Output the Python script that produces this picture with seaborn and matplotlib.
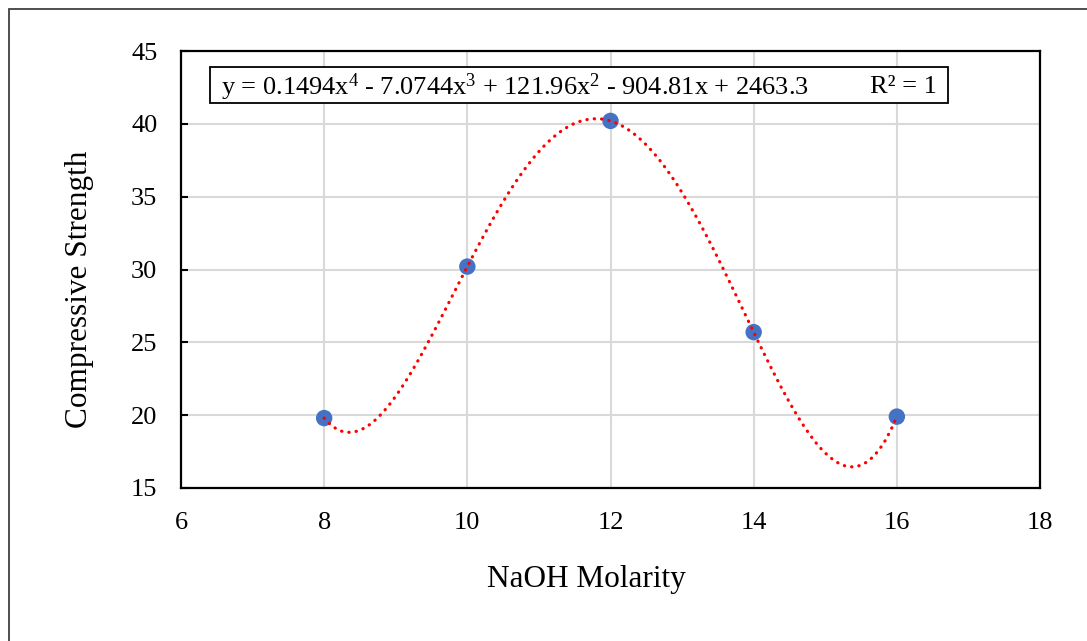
import numpy as np
import pandas as pd
import matplotlib
matplotlib.use("Agg")
import matplotlib.pyplot as plt
import matplotlib.patches as mpatches
import seaborn as sns

molarity = [8, 10, 12, 14, 16]
strength = [19.8, 30.2, 40.2, 25.7, 19.9]
x_ticks = [6, 8, 10, 12, 14, 16, 18]
y_ticks = [15, 20, 25, 30, 35, 40, 45]
equation = "y = 0.1494x$^{4}$ - 7.0744x$^{3}$ + 121.96x$^{2}$ - 904.81x + 2463.3"
r2_text = "R² = 1"

sns.set_theme(style="white")
plt.rcParams["font.family"] = ["Liberation Serif", "DejaVu Serif"]
plt.rcParams["mathtext.fontset"] = "custom"
plt.rcParams["mathtext.rm"] = "Liberation Serif"
plt.rcParams["mathtext.it"] = "Liberation Serif"
plt.rcParams["text.color"] = "black"
plt.rcParams["axes.labelcolor"] = "black"
plt.rcParams["xtick.color"] = "black"
plt.rcParams["ytick.color"] = "black"

df = pd.DataFrame({"NaOH Molarity": molarity, "Compressive Strength": strength})

fig = plt.figure(figsize=(10.87, 6.41), dpi=100)
ax = fig.add_axes([181/1087, 1-488/641, (1040-181)/1087, (488-51)/641])

sns.regplot(data=df, x="NaOH Molarity", y="Compressive Strength", order=4, ci=None,
            truncate=True, ax=ax,
            scatter_kws=dict(s=140, color="#4472C4", edgecolor="none", alpha=1, zorder=3),
            line_kws=dict(color="#FF0000", lw=2.3, linestyle=(0, (0.1, 2.2)),
                          dash_capstyle="round", zorder=4))

ax.set_xlim(6, 18)
ax.set_ylim(15, 45)
ax.set_xticks(x_ticks)
ax.set_yticks(y_ticks)
ax.grid(True, color="#D9D9D9", lw=1.5)
ax.set_axisbelow(True)
for s in ax.spines.values():
    s.set_color("black")
    s.set_linewidth(1.6)
ax.tick_params(axis="y", direction="in", length=5, width=1.5, color="black",
               pad=17, labelsize=19, left=True)
ax.tick_params(axis="x", length=0, pad=17, labelsize=19, bottom=True)
ax.set_xlabel("")
ax.set_ylabel("")
fig.text(586/1087, 1-580/641, "NaOH Molarity", fontsize=22.5, ha="center", va="center")
fig.text(80/1087, 1-289/641, "Compressive Strength", fontsize=22.5, ha="center",
         va="center", rotation=90)

# equation box
ax.add_patch(mpatches.Rectangle((210/1087, 1-103/641), (948-210)/1087, 36/641,
                                transform=fig.transFigure, fill=True, facecolor="white",
                                edgecolor="black", lw=1.3, zorder=5))
fig.text(221/1087, 1-87/641, equation, fontsize=19, va="center", ha="left", zorder=6)
fig.text(937/1087, 1-87/641, r2_text, fontsize=19, va="center", ha="right", zorder=6)

# outer chart border
fig.patches.append(mpatches.Rectangle((9/1087, -0.05), 1.1, 1 - 9/641 + 0.05,
                                      transform=fig.transFigure, fill=False,
                                      edgecolor="#404040", lw=1.3))

fig.savefig("out.png", dpi=100)
